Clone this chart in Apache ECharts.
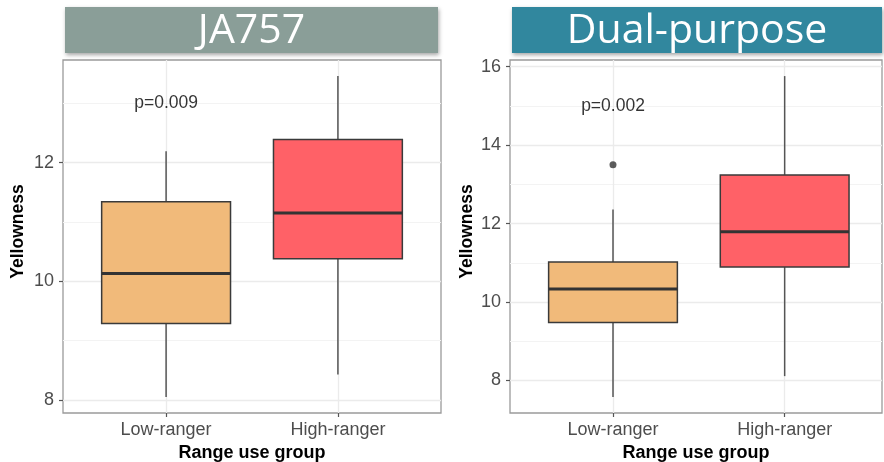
<!DOCTYPE html>
<html><head><meta charset="utf-8">
<script src="https://cdn.jsdelivr.net/npm/echarts@6/dist/echarts.min.js"></script>
<style>html,body{margin:0;padding:0;background:#fff}#c{width:884px;height:462px}</style>
</head><body><div id="c"></div>
<script>
// ---- data ----
const categories = ['Low-ranger', 'High-ranger'];
const panelTitles = ['JA757', 'Dual-purpose'];
// [min, Q1, median, Q3, max]
const ja757Box = [[8.05, 9.29, 10.13, 11.34, 12.19], [8.43, 10.38, 11.15, 12.39, 13.46]];
const dualBox = [[7.58, 9.48, 10.33, 11.02, 12.36], [8.11, 10.89, 11.79, 13.24, 15.76]];
const ja757Outliers = [];
const dualOutliers = [[1, 13.5]];
const pLabels = ['p=0.009', 'p=0.002'];
const pLabelY = [13.0, 15.0];
const ja757Ticks = [8, 10, 12];
const ja757Minor = [9, 11, 13];
const dualTicks = [8, 10, 12, 14, 16];
const dualMinor = [9, 11, 13, 15];
const yRanges = [[7.78, 13.73], [7.17, 16.17]];
const xRanges = [[0.4, 2.6], [0.4, 2.567]];

// ---- styles ----
const FONT = 'Liberation Sans, Arial, Helvetica, sans-serif';
const BOX_WIDTH = 0.75;
const boxFills = ['#F1BA7A', '#FF6167'];
const titleFills = ['#8A9E98', '#31879E'];
const grids = [
  { left: 63, top: 60, width: 378, height: 353 },
  { left: 510, top: 60, width: 372, height: 353 }
];
const titleBoxes = [
  { x: 65, y: 7, width: 373, height: 46 },
  { x: 512, y: 7, width: 370, height: 46 }
];

function renderBox(params, api) {
  const x = api.value(0);
  const pLo = api.coord([x, api.value(1)]);
  const pQ1 = api.coord([x, api.value(2)]);
  const pMed = api.coord([x, api.value(3)]);
  const pQ3 = api.coord([x, api.value(4)]);
  const pHi = api.coord([x, api.value(5)]);
  const half = api.size([BOX_WIDTH, 0])[0] / 2;
  const fill = boxFills[params.dataIndex];
  const wStyle = { stroke: '#555', lineWidth: 1.5 };
  return {
    type: 'group',
    children: [
      { type: 'line', shape: { x1: pLo[0], y1: pLo[1], x2: pQ1[0], y2: pQ1[1] }, style: wStyle },
      { type: 'line', shape: { x1: pQ3[0], y1: pQ3[1], x2: pHi[0], y2: pHi[1] }, style: wStyle },
      { type: 'rect', shape: { x: pQ3[0] - half, y: pQ3[1], width: 2 * half, height: pQ1[1] - pQ3[1] },
        style: { fill: fill, stroke: '#3a3a3a', lineWidth: 1.5 } },
      { type: 'line', shape: { x1: pMed[0] - half, y1: pMed[1], x2: pMed[0] + half, y2: pMed[1] },
        style: { stroke: '#333', lineWidth: 3 } }
    ]
  };
}

const panels = [
  { box: ja757Box, outliers: ja757Outliers, ticks: ja757Ticks, minor: ja757Minor },
  { box: dualBox, outliers: dualOutliers, ticks: dualTicks, minor: dualMinor }
];

const option = {
  backgroundColor: '#fff',
  animation: false,
  grid: grids.map(g => Object.assign({ show: true, borderColor: '#9a9a9a', borderWidth: 1.3, backgroundColor: '#fff',
    containLabel: false, outerBoundsMode: 'none' }, g)),
  xAxis: panels.map((p, i) => ({
    type: 'value', gridIndex: i, min: xRanges[i][0], max: xRanges[i][1],
    axisLine: { show: false },
    splitLine: { show: false },
    axisTick: { show: true, customValues: [1, 2], length: 4, lineStyle: { color: '#555', width: 1.2 } },
    axisLabel: { customValues: [1, 2], formatter: v => categories[Math.round(v) - 1],
      color: '#4d4d4d', fontSize: 18, fontFamily: FONT, margin: 8 },
    name: 'Range use group', nameLocation: 'middle', nameGap: 30,
    nameTextStyle: { fontWeight: 'bold', fontSize: 18, color: '#000', fontFamily: FONT }
  })),
  yAxis: panels.map((p, i) => ({
    type: 'value', gridIndex: i, min: yRanges[i][0], max: yRanges[i][1],
    axisLine: { show: false },
    splitLine: { show: false },
    axisTick: { show: true, customValues: p.ticks, length: 4, lineStyle: { color: '#555', width: 1.2 } },
    axisLabel: { customValues: p.ticks, color: '#4d4d4d', fontSize: 18, fontFamily: FONT, margin: 9 },
    name: 'Yellowness', nameLocation: 'middle', nameGap: i === 0 ? 36 : 34,
    nameTextStyle: { fontWeight: 'bold', fontSize: 17.5, color: '#000', fontFamily: FONT, padding: [0, 0, 0, 10] }
  })),
  graphic: titleBoxes.map((b, i) => ({
    type: 'group', children: [
      { type: 'rect', shape: b, style: { fill: titleFills[i], shadowBlur: 4, shadowOffsetX: 1, shadowOffsetY: 2, shadowColor: 'rgba(0,0,0,0.35)' } },
      { type: 'text', x: b.x + b.width / 2, y: b.y + b.height / 2 + 1,
        style: { text: panelTitles[i], fill: '#fff', font: '41px "Open Sans", sans-serif', textAlign: 'center', textVerticalAlign: 'middle' } }
    ]
  })),
  series: []
};

panels.forEach((p, i) => {
  const lines = [];
  p.ticks.forEach(v => lines.push({ yAxis: v, lineStyle: { color: '#ebebeb', width: 1.3, type: 'solid' } }));
  p.minor.forEach(v => lines.push({ yAxis: v, lineStyle: { color: '#f3f3f3', width: 1, type: 'solid' } }));
  [1, 2].forEach(v => lines.push({ xAxis: v, lineStyle: { color: '#ebebeb', width: 1.3, type: 'solid' } }));
  option.series.push({
    type: 'line', xAxisIndex: i, yAxisIndex: i, data: [], z: 1, silent: true,
    markLine: { silent: true, z: 1, zlevel: 0, symbol: ['none', 'none'], label: { show: false }, data: lines, animation: false }
  });
  option.series.push({
    type: 'custom', xAxisIndex: i, yAxisIndex: i, z: 10,
    data: p.box.map((d, k) => [k + 1].concat(d)),
    encode: { x: 0, y: [1, 2, 3, 4, 5] },
    renderItem: renderBox
  });
  option.series.push({
    type: 'scatter', xAxisIndex: i, yAxisIndex: i, z: 11,
    data: p.outliers, symbolSize: 7, itemStyle: { color: '#333' }
  });
  option.series.push({
    type: 'scatter', xAxisIndex: i, yAxisIndex: i, z: 12,
    data: [[1, pLabelY[i]]], symbolSize: 1, itemStyle: { color: 'rgba(0,0,0,0)' },
    label: { show: true, position: 'inside', formatter: () => pLabels[i], color: '#000', fontSize: 17.5, fontFamily: FONT }
  });
});

const chart = echarts.init(document.getElementById('c'), null, { renderer: 'canvas' });
chart.setOption(option);
</script>
</body></html>
